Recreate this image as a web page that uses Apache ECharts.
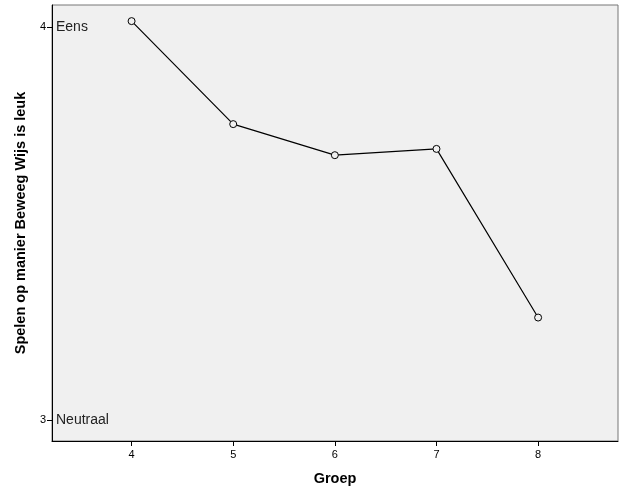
<!DOCTYPE html>
<html>
<head>
<meta charset="utf-8">
<script src="https://cdn.jsdelivr.net/npm/echarts@6/dist/echarts.min.js"></script>
<style>html,body{margin:0;padding:0;background:#fff;}#c{width:626px;height:489px;}</style>
</head>
<body>
<div id="c"></div>
<script>
var groups = [4, 5, 6, 7, 8];
var values = [4.015, 3.753, 3.674, 3.690, 3.261];
var yTicks = [3, 4];
var yTickNames = ['Neutraal', 'Eens'];
var xTitle = 'Groep';
var yTitle = 'Spelen op manier Beweeg Wijs is leuk';

var chart = echarts.init(document.getElementById('c'));
var FONT = 'Liberation Sans, Arial, sans-serif';
chart.setOption({
  animation: false,
  grid: { left: 52, top: 5, right: 8, bottom: 48, show: true, backgroundColor: '#f0f0f0', borderColor: '#777', borderWidth: 1, containLabel: false, outerBoundsMode: 'none' },
  xAxis: {
    type: 'value', min: 3.217, max: 8.786,
    name: xTitle, nameLocation: 'middle', nameGap: 30,
    nameTextStyle: { fontFamily: FONT, fontSize: 14.5, fontWeight: 'bold', color: '#000' },
    axisLine: { show: true, onZero: false, lineStyle: { color: '#000', width: 1 } },
    axisTick: { show: true, length: 5, lineStyle: { color: '#000' }, customValues: groups },
    axisLabel: { fontFamily: FONT, fontSize: 11, color: '#000', margin: 8, customValues: groups },
    splitLine: { show: false }
  },
  yAxis: [{
    type: 'value', min: 2.947, max: 4.056,
    name: yTitle, nameLocation: 'middle', nameGap: 24, nameRotate: 90,
    nameTextStyle: { fontFamily: FONT, fontSize: 14.5, fontWeight: 'bold', color: '#000' },
    axisLine: { show: true, onZero: false, lineStyle: { color: '#000', width: 1 } },
    axisTick: { show: true, length: 5, lineStyle: { color: '#000' }, customValues: yTicks },
    axisLabel: { fontFamily: FONT, fontSize: 11, color: '#000', margin: 6, customValues: yTicks },
    splitLine: { show: false }
  }, {
    type: 'value', min: 2.947, max: 4.056, position: 'left',
    axisLine: { show: false }, axisTick: { show: false }, splitLine: { show: false },
    axisLabel: {
      inside: true, margin: 4, fontFamily: FONT, fontSize: 14, color: '#222',
      customValues: yTicks,
      formatter: function (v) { var i = yTicks.indexOf(Math.round(v)); return i >= 0 ? yTickNames[i] : ''; }
    }
  }],
  series: [{
    type: 'line',
    data: groups.map(function (g, i) { return [g, values[i]]; }),
    lineStyle: { color: '#000', width: 1.2 },
    itemStyle: { color: '#f0f0f0', borderColor: '#000', borderWidth: 1 },
    symbol: 'circle', symbolSize: 7,
    emphasis: { disabled: true }
  }]
});
</script>
</body>
</html>
